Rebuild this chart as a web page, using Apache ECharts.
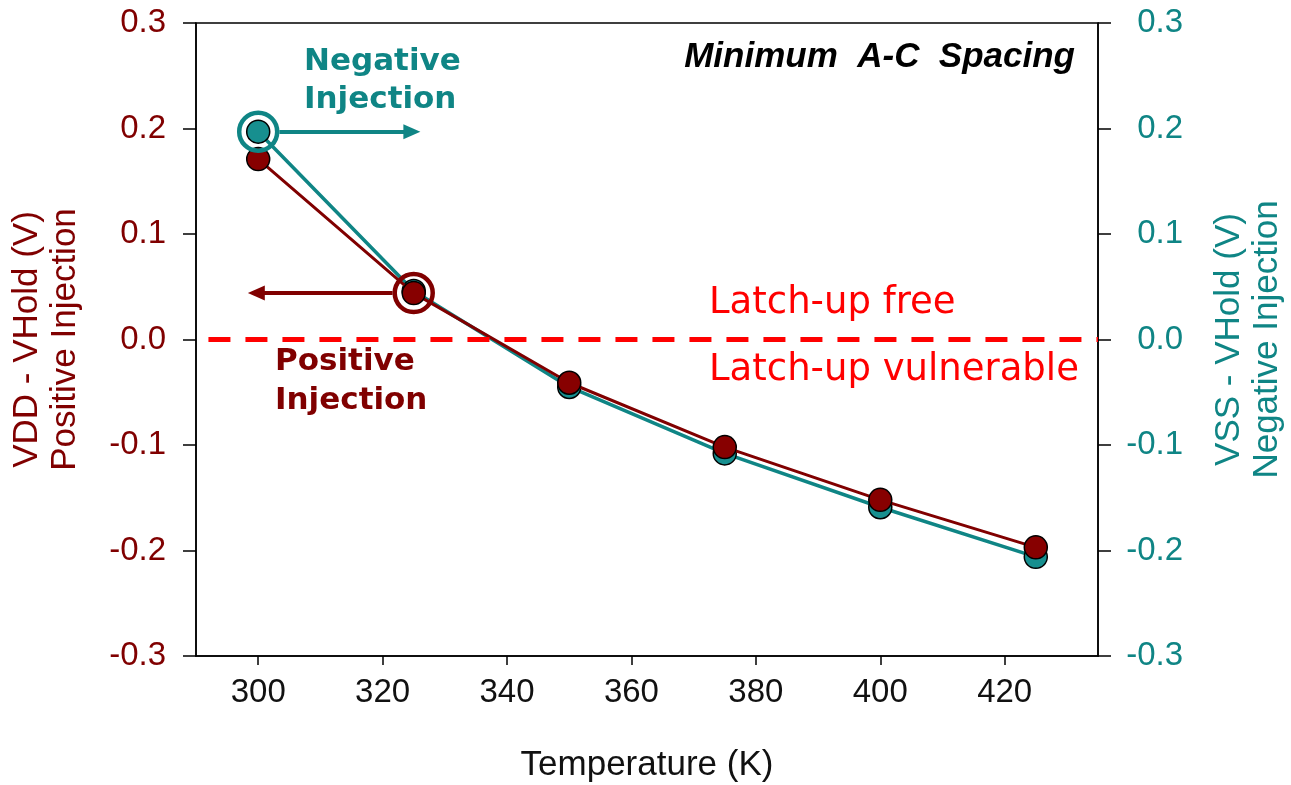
<!DOCTYPE html>
<html>
<head>
<meta charset="utf-8">
<title>Holding voltage margin vs temperature</title>
<script src="https://cdn.jsdelivr.net/npm/echarts@6/dist/echarts.min.js"></script>
<style>
  html, body { margin: 0; padding: 0; background: #ffffff; }
  #chart { width: 1291px; height: 785px; }
</style>
</head>
<body>
<div id="chart"></div>
<script>
// Temperatures (K) at which the holding voltage was measured
const temperatures = [300, 325, 350, 375, 400, 425];
// VDD - VHold (V), positive injection
const positiveInjection = [0.171, 0.044, -0.041, -0.102, -0.152, -0.197];
// VSS - VHold (V), negative injection
const negativeInjection = [0.197, 0.046, -0.045, -0.108, -0.159, -0.206];
// Axis ticks
const xTicks = [300, 320, 340, 360, 380, 400, 420];
const yRange = [-0.3, 0.3];

const MAROON = '#800000';
const TEAL = '#0f8585';
const RED = '#ff0000';

const chart = echarts.init(document.getElementById('chart'), null, { renderer: 'canvas' });

function pairs(xs, ys) { return xs.map((x, i) => [x, ys[i]]); }

const yAxisBase = (color, position, name, margin, align) => ({
  type: 'value',
  position: position,
  min: yRange[0],
  max: yRange[1],
  interval: 0.1,
  name: name,
  nameLocation: 'middle',
  nameGap: 112,
  nameTextStyle: { color: color, fontSize: 35, lineHeight: 38, fontFamily: 'Liberation Sans' },
  axisLine: { show: true, onZero: false, lineStyle: { color: '#000', width: 1.5 } },
  axisTick: { show: true, length: 13, lineStyle: { color: '#000', width: 1.5 } },
  axisLabel: {
    color: color, fontSize: 33, fontFamily: 'Liberation Sans', margin: margin, align: align,
    formatter: v => v.toFixed(1)
  },
  splitLine: { show: false }
});

// straight arrow with a plain triangular head, expressed in data coordinates
const arrow = (color, from, to) => ({
  silent: true,
  symbol: ['none', 'triangle'],
  symbolSize: [15, 17],
  lineStyle: { color: color, width: 4, type: 'solid' },
  itemStyle: { color: color },
  label: { show: false },
  data: [[{ coord: from }, { coord: to }]]
});

const ring = (color, coord) => ({
  silent: true,
  symbol: 'circle',
  symbolSize: 38,
  itemStyle: { color: 'rgba(0,0,0,0)', borderColor: color, borderWidth: 4.5 },
  label: { show: false },
  data: [{ coord: coord }]
});

const option = {
  backgroundColor: '#ffffff',
  animation: false,
  grid: {
    left: 196, right: 193, top: 23, bottom: 129,
    show: true, borderColor: '#000', borderWidth: 1.5, backgroundColor: 'transparent',
    containLabel: false, outerBoundsMode: 'none'
  },
  xAxis: {
    type: 'value',
    min: 290,
    max: 435,
    name: 'Temperature (K)',
    nameLocation: 'middle',
    nameGap: 92,
    nameTextStyle: { color: '#111', fontSize: 35, fontFamily: 'Liberation Sans' },
    axisLine: { show: true, onZero: false, lineStyle: { color: '#000', width: 1.5 } },
    axisTick: { show: true, customValues: xTicks, length: 9, lineStyle: { color: '#000', width: 1.5 } },
    axisLabel: { customValues: xTicks, color: '#111', fontSize: 33, fontFamily: 'Liberation Sans', margin: 20 },
    splitLine: { show: false }
  },
  yAxis: [
    yAxisBase(MAROON, 'left', 'VDD - VHold (V)\nPositive Injection', 30, 'right'),
    yAxisBase(TEAL, 'right', 'VSS - VHold (V)\nNegative Injection', 85, 'right')
  ],
  series: [
    {
      name: 'Negative Injection',
      type: 'line',
      yAxisIndex: 1,
      data: pairs(temperatures, negativeInjection),
      symbol: 'circle',
      symbolSize: 23,
      lineStyle: { color: TEAL, width: 3.5 },
      itemStyle: { color: '#178f8f', borderColor: '#000', borderWidth: 1.5 },
      z: 2,
      markPoint: ring(TEAL, [temperatures[0], negativeInjection[0]]),
      markLine: arrow(TEAL, [303.4, negativeInjection[0]], [324.7, negativeInjection[0]])
    },
    {
      name: 'Positive Injection',
      type: 'line',
      yAxisIndex: 0,
      data: pairs(temperatures, positiveInjection),
      symbol: 'circle',
      symbolSize: 23,
      lineStyle: { color: MAROON, width: 3 },
      itemStyle: { color: '#870000', borderColor: '#000', borderWidth: 1.5 },
      z: 3,
      markPoint: ring(MAROON, [temperatures[1], positiveInjection[1]]),
      markLine: arrow(MAROON, [321.6, positiveInjection[1]], [299.7, positiveInjection[1]])
    },
    {
      // latch-up boundary at zero margin
      name: 'Boundary',
      type: 'line',
      yAxisIndex: 0,
      data: [],
      markLine: {
        silent: true,
        symbol: ['none', 'none'],
        lineStyle: { color: RED, width: 5, type: [22, 15] },
        label: { show: false },
        data: [[{ coord: [292, 0] }, { coord: [435, 0] }]]
      }
    }
  ],
  graphic: [
    { type: 'text', x: 1075, y: 57, style: { text: 'Minimum  A-C  Spacing', fill: '#000', font: 'italic bold 35px "Liberation Sans"', align: 'right', verticalAlign: 'middle' } },
    { type: 'text', x: 304, y: 62, style: { text: 'Negative', fill: TEAL, font: 'bold 31px "DejaVu Sans"', align: 'left', verticalAlign: 'middle' } },
    { type: 'text', x: 304, y: 100, style: { text: 'Injection', fill: TEAL, font: 'bold 31px "DejaVu Sans"', align: 'left', verticalAlign: 'middle' } },
    { type: 'text', x: 275, y: 362, style: { text: 'Positive', fill: MAROON, font: 'bold 31px "DejaVu Sans"', align: 'left', verticalAlign: 'middle' } },
    { type: 'text', x: 275, y: 401, style: { text: 'Injection', fill: MAROON, font: 'bold 31px "DejaVu Sans"', align: 'left', verticalAlign: 'middle' } },
    { type: 'text', x: 709, y: 303, style: { text: 'Latch-up free', fill: RED, font: '37px "DejaVu Sans"', align: 'left', verticalAlign: 'middle' } },
    { type: 'text', x: 709, y: 370, style: { text: 'Latch-up vulnerable', fill: RED, font: '37px "DejaVu Sans"', align: 'left', verticalAlign: 'middle' } }
  ]
};

chart.setOption(option);
</script>
</body>
</html>
